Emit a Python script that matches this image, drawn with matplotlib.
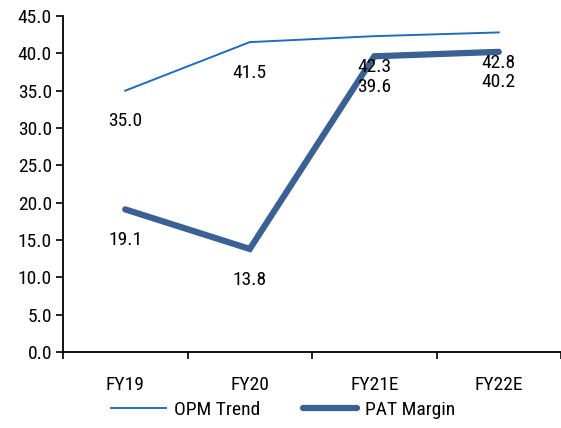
import matplotlib.pyplot as plt

plt.rcParams['font.family'] = ['Roboto Condensed', 'DejaVu Sans']

years = ['FY19', 'FY20', 'FY21E', 'FY22E']
opm_trend = [35.0, 41.5, 42.3, 42.8]
pat_margin = [19.1, 13.8, 39.6, 40.2]

fs = 14
fig = plt.figure(figsize=(5.61, 4.28), dpi=100)
ax = fig.add_axes([63 / 561, 1 - 352 / 428, 498 / 561, 336 / 428])

x = range(len(years))
ax.plot(x, opm_trend, color='#1f6cbf', lw=1.4, label='OPM Trend')
ax.plot(x, pat_margin, color='#3a6094', lw=4.5, solid_capstyle='round',
        solid_joinstyle='miter', label='PAT Margin')

# data labels sit below each point
for series in (opm_trend, pat_margin):
    for i, v in enumerate(series):
        ax.annotate(f'{v:.1f}', (i, v), xytext=(0, -22), textcoords='offset points',
                    ha='center', va='center', fontsize=fs)

ax.set_xlim(-0.5, 3.5)
ax.set_ylim(0, 45)
ax.set_yticks(range(0, 46, 5))
ax.set_yticklabels([f'{t:.1f}' for t in range(0, 46, 5)], fontsize=fs)
ax.set_xticks(list(x))
ax.set_xticklabels(years, fontsize=fs)
ax.tick_params(axis='x', length=0, pad=17)
ax.set_xticks([-0.5, 0.5, 1.5, 2.5, 3.5], minor=True)
ax.tick_params(axis='x', which='minor', length=5, width=1.2, direction='out')
ax.tick_params(axis='y', length=5, width=1.2, direction='out', pad=3)
ax.spines['top'].set_visible(False)
ax.spines['right'].set_visible(False)
ax.spines['left'].set_linewidth(1.3)
ax.spines['bottom'].set_linewidth(1.3)

fig.legend(loc='center', bbox_to_anchor=(0.505, 1 - 410 / 428), ncol=2, frameon=False,
           fontsize=fs, handlelength=2.8, columnspacing=2.2, handletextpad=0.4)

fig.savefig('out.png', dpi=100)
